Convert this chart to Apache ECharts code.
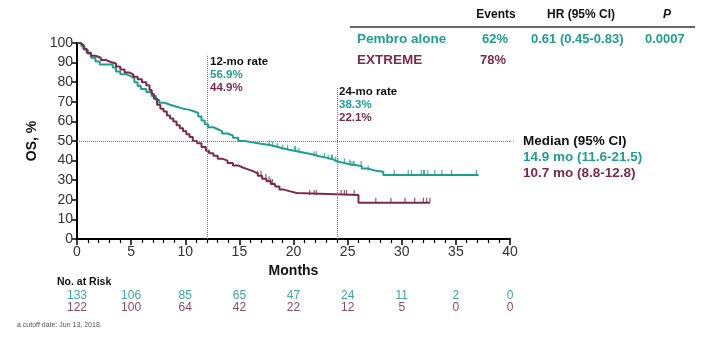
<!DOCTYPE html>
<html><head><meta charset="utf-8">
<script src="https://cdn.jsdelivr.net/npm/echarts@6/dist/echarts.min.js"></script>
<style>html,body{margin:0;padding:0;background:#fff}#c{width:720px;height:341px}</style>
</head><body><div id="c"></div>
<script>
// ---- data ----
const pembroTimes = [0,0.4,0.7,1.0,1.3,1.7,2.1,3.3,3.6,4.0,4.6,5.0,5.3,5.6,5.9,6.4,6.9,7.3,7.6,8.1,8.6,9.2,9.8,10.3,10.8,11.2,11.5,11.8,12.1,12.6,13.0,13.4,13.9,14.4,14.9,15.5,16.2,17.0,17.8,18.4,18.9,19.6,20.3,21.0,21.7,22.4,23.1,23.7,24.0,24.8,25.3,26.3,26.8,27.5,28.3,37.1];
const pembroSurv  = [100,98.5,96.5,94.5,92.5,90.5,89,87.5,85.5,84,83,82,80,78,76.5,75,73,71,69.5,68.5,67.5,66.5,66,65.2,64.3,62.5,60.5,58.5,57,56,55,53.8,52.8,51.6,50,49.3,48.6,48,47.2,46.4,45.5,44.8,44,43.2,42.2,41.4,40.5,39.6,38.6,38,37.2,36,35,34.3,32.7,32.7];
const extremeTimes = [0,0.3,0.6,0.9,1.3,1.7,2.2,2.7,3.1,3.6,4.0,4.4,4.8,5.2,5.6,6.0,6.4,6.7,6.9,7.1,7.4,7.7,8.0,8.3,8.6,8.9,9.2,9.5,9.8,10.1,10.4,10.7,11.1,11.5,11.9,12.2,12.6,13.0,13.4,13.9,14.4,14.9,15.3,15.8,16.3,16.7,17.1,17.5,17.9,18.3,18.7,19.1,19.7,20.3,26.0,32.6];
const extremeSurv  = [100,99,97,95,93.5,92.5,91.3,90.3,89.5,88,86.5,85,84,82.8,81.5,80,78.5,76,74,71.5,68.5,66.5,65,63,61.5,60,58,56.5,55,53.5,52,50,48.8,47,45,43.7,42.5,41,40,38.8,37.5,36.5,35.5,34.5,33.5,32.3,30.8,29.5,28,26.8,25.2,24.3,23.5,22.5,18.5,18.5];
const pembroCensor = [17.75,18.06,18.5,19.0,19.45,20.1,20.2,20.5,21.9,22.1,22.85,23.2,23.5,23.6,23.9,24.1,24.7,25.2,25.3,25.5,25.6,26.25,26.9,29.3,30.6,30.9,31.8,32.0,32.1,32.4,33.05,33.7,34.6,36.9];
const extremeCensor = [16.7,17.0,17.45,17.75,17.9,18.06,21.5,21.9,22.1,24.4,24.7,24.9,25.6,27.6,29.0,30.3,31.2,32.0,32.3,32.6];
const riskTimes = [0,5,10,15,20,25,30,35,40];
const pembroRisk = [133,106,85,65,47,24,11,2,0];
const extremeRisk = [122,100,64,42,22,12,5,0,0];
const xTicks = {min:0,max:40,interval:5};
const yTicks = {min:0,max:100,interval:10};

const TEAL = '#1f9f8d', MAROON = '#7b2a4b';
const FONT = 'Arial, "Liberation Sans", sans-serif';

function stepAt(times, surv, t){ let v = surv[0]; for(let i=0;i<times.length;i++){ if(times[i]<=t) v=surv[i]; } return v; }
const zip = (a,b)=>a.map((x,i)=>[x,b[i]]);

const chart = echarts.init(document.getElementById('c'), null, {renderer:'canvas'});
const riskAxis = (arr, color, offset) => ({
  type:'value', gridIndex:0, position:'bottom', offset:offset, min:xTicks.min, max:xTicks.max, interval:xTicks.interval,
  axisLine:{show:false}, axisTick:{show:false}, splitLine:{show:false},
  axisLabel:{color:color, fontSize:12, fontFamily:FONT, margin:0, formatter:v=>{const i=riskTimes.indexOf(v); return i>=0?String(arr[i]):'';}}
});
const censorSeries = (name, times, surv, cens, color) => ({
  name:name+' censored', type:'scatter', data:cens.map(t=>[t, stepAt(times,surv,t)]),
  symbol:'rect', symbolSize:[1.2,5], symbolOffset:[0,-2.5], itemStyle:{color:color}, silent:true, z:4
});
const dotted = {color:'#777', type:'dotted', width:1};
chart.setOption({
  animation:false,
  grid:{left:77, right:210, top:43, bottom:102, containLabel:false},
  xAxis:[{
    type:'value', min:xTicks.min, max:xTicks.max, interval:xTicks.interval,
    name:'Months', nameLocation:'middle', nameGap:24,
    nameTextStyle:{fontSize:14, fontWeight:'bold', color:'#111', fontFamily:FONT},
    axisLine:{lineStyle:{color:'#000', width:2}},
    axisTick:{length:6, lineStyle:{color:'#000', width:1.5}},
    minorTick:{show:true, splitNumber:5, length:4, lineStyle:{color:'#000', width:1.2}},
    splitLine:{show:false},
    axisLabel:{fontSize:14, color:'#333', fontFamily:FONT, margin:6}
  }, riskAxis(pembroRisk, '#3aaa9c', 51), riskAxis(extremeRisk, '#8d4a64', 63)],
  yAxis:{
    type:'value', min:yTicks.min, max:yTicks.max, interval:yTicks.interval,
    name:'OS, %', nameLocation:'middle', nameGap:34,
    nameTextStyle:{fontSize:14, fontWeight:'bold', color:'#111', fontFamily:FONT},
    axisLine:{show:true, lineStyle:{color:'#000', width:2}},
    axisTick:{show:true, length:5, lineStyle:{color:'#000', width:1.5}},
    splitLine:{show:false},
    axisLabel:{fontSize:14, color:'#333', fontFamily:FONT, margin:4}
  },
  series:[
    {name:'Pembro alone', type:'line', step:'end', data:zip(pembroTimes,pembroSurv), symbol:'none',
     lineStyle:{color:TEAL, width:2}, z:3,
     markLine:{silent:true, symbol:'none', label:{show:false}, lineStyle:dotted,
       data:[[{coord:[12,0]},{coord:[12,94]}],[{coord:[24,0]},{coord:[24,77]}],[{coord:[0,50]},{coord:[40,50]}]]}},
    {name:'EXTREME', type:'line', step:'end', data:zip(extremeTimes,extremeSurv), symbol:'none',
     lineStyle:{color:MAROON, width:2}, z:3},
    censorSeries('Pembro alone', pembroTimes, pembroSurv, pembroCensor, TEAL),
    censorSeries('EXTREME', extremeTimes, extremeSurv, extremeCensor, MAROON)
  ]
});

const p50 = chart.convertToPixel({gridIndex:0},[40,50]);
const T = (x,y,text,fill,opts={}) => Object.assign({type:'text', x:x, y:y, style:Object.assign({text:text, fill:fill, font:'bold 12px '+FONT, textVerticalAlign:'middle'}, opts.style||{})}, opts.el||{});
chart.setOption({graphic:[
  {type:'line', shape:{x1:p50[0], y1:p50[1], x2:p50[0]+6, y2:p50[1]}, style:{stroke:'#777', lineDash:[1,2], lineWidth:1}},
  // table
  {type:'line', shape:{x1:350, y1:27, x2:695, y2:27}, style:{stroke:'#666', lineWidth:2}},
  T(496,15,'Events','#111',{style:{textAlign:'center'}}),
  T(581,15,'HR (95% CI)','#111',{style:{textAlign:'center'}}),
  T(667,15,'P','#111',{style:{textAlign:'center', font:'italic bold 12px '+FONT}}),
  T(357,39,'Pembro alone',TEAL,{style:{font:'bold 13.5px '+FONT}}),
  T(495,39,'62%',TEAL,{style:{textAlign:'center', font:'bold 13px '+FONT}}),
  T(531,39,'0.61 (0.45-0.83)',TEAL,{style:{font:'bold 13px '+FONT}}),
  T(645,39,'0.0007',TEAL,{style:{font:'bold 13px '+FONT}}),
  T(357,60,'EXTREME',MAROON,{style:{font:'bold 13.5px '+FONT}}),
  T(493,60,'78%',MAROON,{style:{textAlign:'center', font:'bold 13px '+FONT}}),
  // rates
  T(210,62,'12-mo rate','#111',{style:{font:'bold 11.5px '+FONT}}),
  T(210,75,'56.9%',TEAL,{style:{font:'bold 11.5px '+FONT}}),
  T(210,88,'44.9%',MAROON,{style:{font:'bold 11.5px '+FONT}}),
  T(339,92,'24-mo rate','#111',{style:{font:'bold 11.5px '+FONT}}),
  T(339,105,'38.3%',TEAL,{style:{font:'bold 11.5px '+FONT}}),
  T(339,118,'22.1%',MAROON,{style:{font:'bold 11.5px '+FONT}}),
  // median
  T(523,141,'Median (95% CI)','#111',{style:{font:'bold 13.5px '+FONT}}),
  T(523,157,'14.9 mo (11.6-21.5)',TEAL,{style:{font:'bold 13.5px '+FONT}}),
  T(523,173,'10.7 mo (8.8-12.8)',MAROON,{style:{font:'bold 13.5px '+FONT}}),
  // risk table title, footnote
  T(57,282,'No. at Risk','#111',{style:{font:'bold 10.5px '+FONT}}),
  T(17,325,'a cutoff date: Jun 13, 2018.','#555',{style:{font:'7px '+FONT}})
]});
</script></body></html>
